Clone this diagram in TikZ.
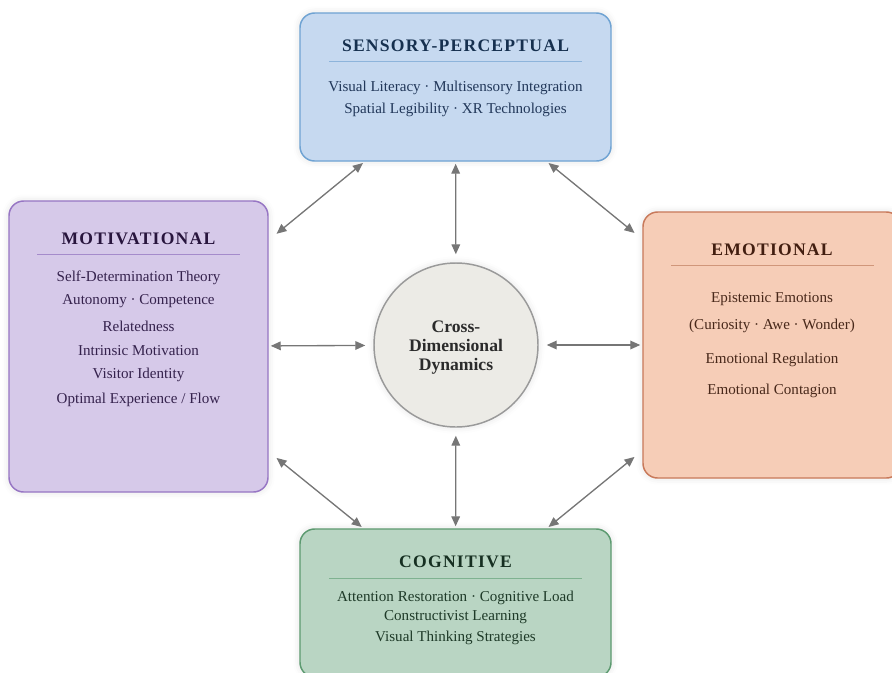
\documentclass[tikz,border=0pt]{standalone}
\usepackage{fontspec}
\setmainfont{Liberation Serif}
\newfontfamily\titlefont[LetterSpace=7]{Liberation Serif}
\usetikzlibrary{arrows.meta,shadows.blur}
\definecolor{sfill}{HTML}{C6D9F0}\definecolor{sdraw}{HTML}{6FA3D3}\definecolor{stitle}{HTML}{16304F}\definecolor{stext}{HTML}{22385A}\definecolor{srule}{HTML}{8DB4DB}
\definecolor{mfill}{HTML}{D6C9E9}\definecolor{mdraw}{HTML}{9776C4}\definecolor{mtitle}{HTML}{28153D}\definecolor{mtext}{HTML}{35224D}\definecolor{mrule}{HTML}{A58BCB}
\definecolor{efill}{HTML}{F6CDB7}\definecolor{edraw}{HTML}{C8795A}\definecolor{etitle}{HTML}{421E10}\definecolor{etext}{HTML}{48281A}\definecolor{erule}{HTML}{D0967A}
\definecolor{cfill}{HTML}{B9D5C3}\definecolor{cdraw}{HTML}{5C9A70}\definecolor{ctitle}{HTML}{162F21}\definecolor{ctext}{HTML}{1E3A28}\definecolor{crule}{HTML}{7FB290}
\definecolor{ofill}{HTML}{ECEBE6}\definecolor{odraw}{HTML}{9A9A9A}\definecolor{otext}{HTML}{2B2B2B}
\definecolor{arrowc}{HTML}{767676}
\tikzset{
  dimbox/.style={rectangle, rounded corners=11pt, line width=1.1pt, inner sep=0pt,
    blur shadow={shadow xshift=0pt, shadow yshift=0pt, shadow blur radius=5pt, shadow opacity=12}},
  dimtitle/.style={font=\titlefont\fontsize{13.2}{15}\selectfont\bfseries, inner sep=0pt, yshift=-0.6pt},
  dimtext/.style={font=\fontsize{11.3}{13}\selectfont, inner sep=0pt, yshift=-1.2pt},
  dimrule/.style={line width=0.6pt},
  link/.style={draw=arrowc, line width=1pt, {Triangle[length=7.5pt,width=6.5pt]}-{Triangle[length=7.5pt,width=6.5pt]}},
}
\begin{document}
\begin{tikzpicture}[x=0.75pt,y=-0.75pt]
\useasboundingbox (0,0) rectangle (892,672);
\clip (0,0) rectangle (892,672);
% boxes
\node[dimbox, fill=sfill, draw=sdraw, minimum width=233.25pt, minimum height=111pt] (sens) at (455.5,87) {};
\node[dimbox, fill=mfill, draw=mdraw, minimum width=194.25pt, minimum height=218.25pt] (mot) at (138.5,346.5) {};
\node[dimbox, fill=efill, draw=edraw, minimum width=193.5pt, minimum height=199.5pt] (emo) at (772,345) {};
\node[dimbox, fill=cfill, draw=cdraw, minimum width=233.25pt, minimum height=111pt] (cog) at (455.5,603) {};
\node[circle, fill=ofill, draw=odraw, line width=1.1pt, minimum size=123pt, inner sep=0pt,
  blur shadow={shadow xshift=0pt, shadow yshift=0pt, shadow blur radius=5pt, shadow opacity=12}] (core) at (456,345) {};
% sensory
\node[dimtitle, text=stitle] (stl) at (455.5,45) {SENSORY-PERCEPTUAL};
\draw[dimrule, srule] (329,61) -- (582,61);
\node[dimtext, text=stext] (s1) at (455.5,86) {Visual Literacy · Multisensory Integration};
\node[dimtext, text=stext] (s2) at (455.5,108) {Spatial Legibility · XR Technologies};
% motivational
\node[dimtitle, text=mtitle] (mtl) at (138.5,238) {MOTIVATIONAL};
\draw[dimrule, mrule] (37,254) -- (240,254);
\node[dimtext, text=mtext] (m1) at (138.5,276) {Self-Determination Theory};
\node[dimtext, text=mtext] (m2) at (138.5,300) {Autonomy · Competence};
\node[dimtext, text=mtext] (m3) at (138.5,325) {Relatedness};
\node[dimtext, text=mtext] (m4) at (138.5,349) {Intrinsic Motivation};
\node[dimtext, text=mtext] (m5) at (138.5,373) {Visitor Identity};
\node[dimtext, text=mtext] (m6) at (138.5,398) {Optimal Experience / Flow};
% emotional
\node[dimtitle, text=etitle] (etl) at (772,249) {EMOTIONAL};
\draw[dimrule, erule] (671,265) -- (874,265);
\node[dimtext, text=etext] (e1) at (772,298) {Epistemic Emotions};
\node[dimtext, text=etext] (e2) at (772,324) {(Curiosity · Awe · Wonder)};
\node[dimtext, text=etext] (e3) at (772,358) {Emotional Regulation};
\node[dimtext, text=etext] (e4) at (772,389) {Emotional Contagion};
% cognitive
\node[dimtitle, text=ctitle] (ctl) at (455.5,561) {COGNITIVE};
\draw[dimrule, crule] (329,578) -- (582,578);
\node[dimtext, text=ctext] (c1) at (455.5,596) {Attention Restoration · Cognitive Load};
\node[dimtext, text=ctext] (c2) at (455.5,616) {Constructivist Learning};
\node[dimtext, text=ctext] (c3) at (455.5,636) {Visual Thinking Strategies};
% center
\node[align=center, text=otext, font=\fontsize{13.2}{14.25}\selectfont\bfseries] (ctr) at (456,347.5) {Cross-\\Dimensional\\Dynamics};
% connectors
\draw[link, shorten <=1.5pt, shorten >=6pt] (sens) -- (core);
\draw[link, shorten <=6pt, shorten >=1.5pt] (core) -- (cog);
\draw[link, shorten <=1.5pt, shorten >=6pt] (mot) -- (core);
\draw[link, shorten <=6pt, shorten >=1.5pt] (core) -- (emo);
\draw[link, shorten <=1.5pt, shorten >=7.5pt] (sens) -- (mot);
\draw[link, shorten <=1.5pt, shorten >=7.5pt] (sens) -- (emo);
\draw[link, shorten <=7.5pt, shorten >=1.5pt] (mot) -- (cog);
\draw[link, shorten <=7.5pt, shorten >=1.5pt] (emo) -- (cog);
\end{tikzpicture}
\end{document}
